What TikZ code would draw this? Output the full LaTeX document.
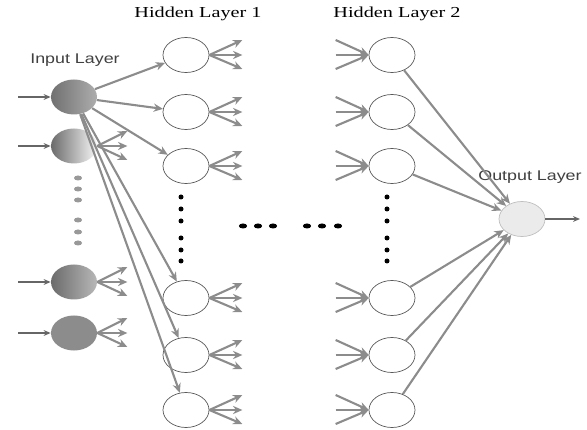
\documentclass[tikz,border=0pt]{standalone}
\usepackage{fontspec}
\setmainfont{Liberation Serif}
\setsansfont{Liberation Sans}
\usetikzlibrary{shapes.geometric}
\usetikzlibrary{arrows.meta}
\usetikzlibrary{calc}
\usetikzlibrary{positioning}
\tikzset{neuron/.style={ellipse, draw=black!65, line width=0.6pt, minimum width=1.38cm, minimum height=1.05cm, inner sep=0pt}}
\tikzset{link/.style={draw=black!45, line width=1.8pt, -{Stealth[length=8pt,width=7pt]}}}
\tikzset{feed/.style={draw=black!60, line width=1pt, -{Stealth[length=6pt,width=5pt]}}}
\tikzset{bdot/.style={ellipse, fill=black, minimum width=0.25cm, minimum height=0.15cm, inner sep=0pt}}
\tikzset{gdot/.style={ellipse, fill=black!40, minimum width=0.24cm, minimum height=0.15cm, inner sep=0pt}}
\tikzset{title/.style={font=\fontsize{13}{15}\selectfont}}
\tikzset{tag/.style={font=\sffamily\fontsize{12}{14}\selectfont, text=black!75}}

\begin{document}
\begin{tikzpicture}[x=0.03cm, y=-0.03cm]
  \useasboundingbox (0,0) rectangle (587,430);

  % labels
  \node[title] (t1) at (198,14) {\scalebox{1.33}[1]{Hidden Layer 1}};
  \node[title] (t2) at (397,14) {\scalebox{1.33}[1]{Hidden Layer 2}};
  \node[tag] (tin) at (75,60) {\scalebox{1.27}[1]{Input Layer}};
  \node[tag] (tout) at (530,177) {\scalebox{1.27}[1]{Output Layer}};

  % input layer
  \node[neuron, draw=none, left color=black!56, right color=black!32] (i1) at (74,97) {};
  \node[neuron, draw=none, left color=black!58, right color=black!3] (i2) at (74,146) {};
  \node[neuron, draw=none, left color=black!58, right color=black!28] (i3) at (74,282) {};
  \node[neuron, draw=none, fill=black!45] (i4) at (74,333) {};
  \foreach \y in {178,189,200,220,232,243}
    \node[gdot] at (78,\y) {};
  \foreach \n in {1,...,4}{
    \coordinate (s\n) at (18,0 |- i\n);
    \draw[feed] (s\n) -- (i\n);
  }

  % hidden layers
  \foreach \n/\y in {1/55, 2/112, 3/166, 4/298, 5/355, 6/410}{
    \node[neuron] (h\n) at (186,\y) {};
    \node[neuron] (k\n) at (392,\y) {};
  }
  \foreach \y in {197,209,221,238,250,261}{
    \node[bdot, minimum width=0.15cm] at (181,\y) {};
    \node[bdot, minimum width=0.15cm] at (387,\y) {};
  }
  \foreach \x in {243,258,273,307,322,338}
    \node[bdot] at (\x,226) {};

  % output layer
  \node[neuron, draw=black!25, fill=black!8] (o) at (522,219) {};
  \coordinate (oend) at (580,219);
  \draw[feed] (o) -- (oend);

  % connections
  \foreach \n in {1,...,6}
    \draw[link] (i1) -- (h\n);
  \foreach \n in {2,3,4}
    \foreach \d/\s in {-15/a,0/b,14/c}{
      \coordinate (i\n\s) at ($(i\n.east)+(30,\d)$);
      \draw[link] (i\n.east) -- (i\n\s);
    }
  \foreach \n in {1,...,6}
    \foreach \d/\s in {-15/a,0/b,14/c}{
      \coordinate (h\n\s) at ($(h\n.east)+(33,\d)$);
      \draw[link] (h\n.east) -- (h\n\s);
      \coordinate (k\n\s) at ($(k\n.west)+(-33,\d)$);
      \draw[link] (k\n\s) -- (k\n.west);
    }
  \foreach \n in {1,...,6}
    \draw[link] (k\n) -- (o);
\end{tikzpicture}
\end{document}
